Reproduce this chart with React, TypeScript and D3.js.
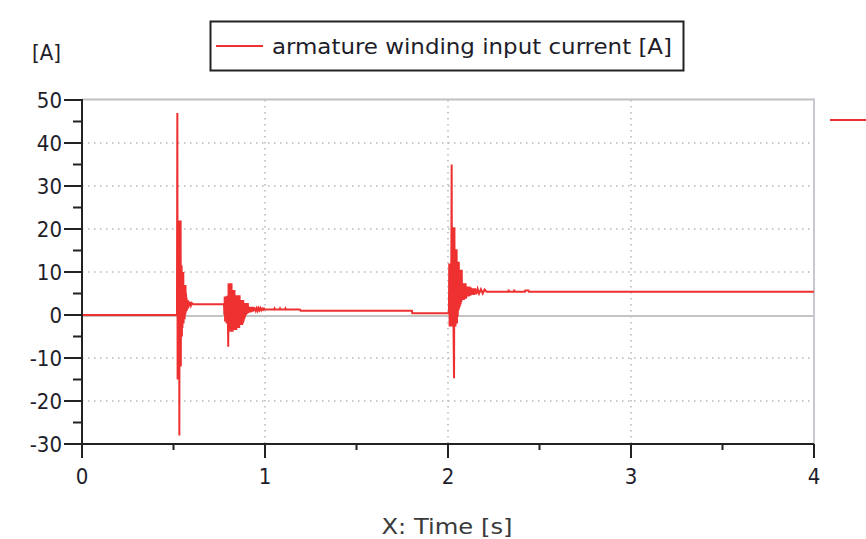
import React from "react";
import * as d3 from "d3";

// [time s, current A]
const seriesBase: [number, number][] = [
  [0, 0], [0.519, 0],
];
const burst1: [number, number][] = [
  [0.521, 47], [0.5225, -15], [0.524, 0], [0.525, -15], [0.526, 22], [0.5275, -15], [0.529, 22],
  [0.53, -15], [0.531, 22], [0.532, -28], [0.533, 22], [0.5345, -12], [0.536, 22], [0.5375, -12],
  [0.539, 22], [0.54, -12], [0.5415, 11.5], [0.543, -5], [0.5445, 11.5], [0.546, -5], [0.5475, 10],
  [0.549, -3], [0.5505, 10], [0.552, -2], [0.5535, 10], [0.555, -2], [0.5565, 7], [0.558, -1],
  [0.5595, 7], [0.561, -1], [0.5625, 7], [0.564, 0], [0.5655, 7], [0.567, 0.5], [0.5685, 5],
  [0.57, 1], [0.5715, 4], [0.573, 1], [0.5745, 3.5], [0.576, 1.5], [0.578, 3.5], [0.58, 1.5],
  [0.583, 3.2], [0.586, 2], [0.59, 3], [0.595, 2.2], [0.6, 2.8], [0.607, 2.5], [0.776, 2.5],
];
const burst2: [number, number][] = [
  [0.778, 0], [0.78, 4.3], [0.782, -1.5], [0.784, 4.3], [0.786, -1.5], [0.788, 4.3], [0.79, -2],
  [0.792, 4.5], [0.794, -2], [0.796, 4.5], [0.799, -7.4], [0.801, 7.4], [0.803, -3], [0.805, 7.4],
  [0.807, -3], [0.809, 7.4], [0.811, -3.9], [0.813, 7.4], [0.815, -3.9], [0.817, 7.4], [0.819, -3.9],
  [0.821, 5.8], [0.823, -3.9], [0.825, 5.8], [0.827, -3.5], [0.829, 5.8], [0.831, -3.5], [0.833, 5.8],
  [0.835, -3.5], [0.837, 4.6], [0.839, -3.5], [0.841, 4.6], [0.843, -3.5], [0.845, 4.6], [0.847, -3],
  [0.849, 4.6], [0.851, -3], [0.853, 4.6], [0.855, -3], [0.857, 4.6], [0.859, -3], [0.861, 4.6],
  [0.863, -2.3], [0.865, 3.5], [0.867, -2.3], [0.869, 3.5], [0.871, -2.3], [0.873, 3.5], [0.875, -2.3],
  [0.877, 3.5], [0.879, -2], [0.881, 3.5], [0.883, -1.5], [0.885, 2.8], [0.887, -1], [0.889, 2.8],
  [0.891, -0.5], [0.894, 2.8], [0.897, 0], [0.9, 2.8], [0.903, 0.3], [0.906, 2.8], [0.909, 0.5],
  [0.913, 1.9], [0.917, 0.6], [0.921, 1.9], [0.925, 0.7], [0.929, 1.9], [0.933, 0.8], [0.937, 1.9],
  [0.941, 0.9], [0.945, 1.7], [0.95, 1.0], [0.955, 1.6], [0.96, 1.0], [0.965, 1.6], [0.97, 1.1],
  [0.975, 1.6], [0.98, 1.1], [0.985, 1.5], [0.99, 1.2], [0.995, 1.5], [1.0, 1.3],
  [1.05, 1.3], [1.052, 1.5], [1.054, 1.3], [1.08, 1.3], [1.082, 1.5], [1.084, 1.3], [1.11, 1.3],
  [1.112, 1.5], [1.114, 1.3], [1.19, 1.3], [1.195, 1.0], [1.803, 1.0], [1.805, 0.4], [2.005, 0.4],
];
const burst3: [number, number][] = [
  [2.007, 12], [2.009, -2.7], [2.011, 12], [2.013, -2.7], [2.015, 12], [2.017, -2.7], [2.02, 35],
  [2.022, -2.7], [2.024, 20.4], [2.026, -2.7], [2.028, 20.4], [2.03, -2.7], [2.033, -14.7],
  [2.035, 20.4], [2.037, -2.7], [2.039, 15.3], [2.041, -2.7], [2.043, 15.3], [2.045, -2],
  [2.047, 15.3], [2.049, -2], [2.051, 12.4], [2.053, -0.4], [2.055, 12.4], [2.057, 1], [2.059, 12.4],
  [2.061, 1.5], [2.063, 10.5], [2.065, 2], [2.067, 10.5], [2.069, 2.5], [2.071, 10.5], [2.073, 3],
  [2.075, 10.5], [2.077, 3.5], [2.079, 7.4], [2.081, 3.5], [2.084, 7.4], [2.087, 3.5], [2.09, 7.4],
  [2.093, 3.8], [2.096, 7.4], [2.099, 3.8], [2.102, 6.6], [2.106, 4.3], [2.11, 6.6], [2.114, 4.3],
  [2.118, 6.6], [2.122, 4.5], [2.126, 6.4], [2.13, 4.7], [2.136, 6.2], [2.142, 4.7], [2.148, 6.2],
  [2.155, 4.8], [2.162, 6.1], [2.17, 5.0], [2.18, 6.0], [2.19, 5.0], [2.2, 5.9], [2.211, 5.4],
  [2.33, 5.4], [2.332, 5.9], [2.334, 5.4], [2.36, 5.4], [2.362, 5.9], [2.364, 5.4], [2.42, 5.4],
  [2.422, 5.7], [2.44, 5.7], [2.442, 5.4], [4.0, 5.4],
];

const yTicks = [50, 40, 30, 20, 10, 0, -10, -20, -30];
const yMinorTicks = [45, 35, 25, 15, 5, -5, -15, -25];
const xTicks = [0, 1, 2, 3, 4];
const xMinorTicks = [0.5, 1.5, 2.5, 3.5];
const legendLabel = "armature winding input current [A]";
const yUnit = "[A]";
const xTitle = "X: Time [s]";

const W = 866;
const H = 539;
const FONT = "'DejaVu Sans Condensed', 'DejaVu Sans', sans-serif";
const RED = "#ee3030";

export default function App() {
  const data = [...seriesBase, ...burst1, ...burst2, ...burst3];
  const x = d3.scaleLinear().domain([0, 4]).range([82, 814]);
  const y = d3.scaleLinear().domain([-30, 50]).range([444, 100]);
  const line = d3
    .line<[number, number]>()
    .x((d) => x(d[0]))
    .y((d) => y(d[1]));

  return (
    <svg
      width={W}
      height={H}
      style={{ position: "absolute", left: 0, top: 0, background: "#fff" }}
    >
      {/* grid */}
      {yTicks
        .filter((t) => t !== 0 && t !== -30 && t !== 50)
        .map((t) => (
          <line key={"gy" + t} x1={x(0)} x2={x(4)} y1={y(t)} y2={y(t)}
            stroke="#b8b8b8" strokeWidth={1.5} strokeDasharray="1.5,4.5" />
        ))}
      {xTicks
        .filter((t) => t !== 0 && t !== 4)
        .map((t) => (
          <line key={"gx" + t} x1={x(t)} x2={x(t)} y1={y(50)} y2={y(-30)}
            stroke="#b8b8b8" strokeWidth={1.5} strokeDasharray="1.5,4.5" />
        ))}
      {/* frame top / right */}
      <line x1={x(0)} x2={x(4)} y1={y(50) - 0.5} y2={y(50) - 0.5} stroke="#c0c0c0" strokeWidth={2} />
      <line x1={x(4)} x2={x(4)} y1={y(50) - 1.5} y2={y(-30)} stroke="#c8c8d0" strokeWidth={2} />
      {/* zero line */}
      <line x1={x(0)} x2={x(4)} y1={y(0) + 1} y2={y(0) + 1} stroke="#c4c4c4" strokeWidth={2} />

      {/* series */}
      <path d={line(data) || ""} fill="none" stroke={RED} strokeWidth={2} strokeLinejoin="miter" />

      {/* axes */}
      <line x1={x(0)} x2={x(0)} y1={y(50) - 1} y2={y(-30) + 14} stroke="#222" strokeWidth={2} />
      <line x1={x(0) - 18} x2={x(4)} y1={y(-30)} y2={y(-30)} stroke="#222" strokeWidth={2} />
      {yTicks.map((t) => (
        <g key={"yt" + t}>
          <line x1={x(0) - 18} x2={x(0)} y1={y(t)} y2={y(t)} stroke="#222" strokeWidth={2} />
          <text x={x(0) - 20} y={y(t)} dy="0.36em" textAnchor="end" fontFamily={FONT}
            fontSize={22} fill="#1e1e2a">{t}</text>
        </g>
      ))}
      {yMinorTicks.map((t) => (
        <line key={"ym" + t} x1={x(0) - 9} x2={x(0)} y1={y(t)} y2={y(t)} stroke="#222" strokeWidth={2} />
      ))}
      {xTicks.map((t) => (
        <g key={"xt" + t}>
          <line x1={x(t)} x2={x(t)} y1={y(-30)} y2={y(-30) + 14} stroke="#222" strokeWidth={2} />
          <text x={x(t)} y={y(-30) + 32} dy="0.36em" textAnchor="middle" fontFamily={FONT}
            fontSize={22} fill="#1e1e2a">{t}</text>
        </g>
      ))}
      {xMinorTicks.map((t) => (
        <line key={"xm" + t} x1={x(t)} x2={x(t)} y1={y(-30)} y2={y(-30) + 6} stroke="#222" strokeWidth={2} />
      ))}

      {/* unit label */}
      <text x={32} y={52} dy="0.36em" fontFamily={FONT} fontSize={22} fill="#1e1e2a">{yUnit}</text>
      {/* x title */}
      <text x={447} y={526} dy="0.36em" textAnchor="middle" fontFamily={FONT} fontSize={22}
        fill="#3a3a3a" textLength={131} lengthAdjust="spacingAndGlyphs">{xTitle}</text>

      {/* legend */}
      <rect x={210.5} y={21.5} width={473} height={49} fill="#fff" stroke="#222" strokeWidth={2} />
      <line x1={216} x2={263} y1={46} y2={46} stroke={RED} strokeWidth={2} />
      <text x={272} y={46} dy="0.36em" fontFamily={FONT} fontSize={22} fill="#1e1e2a"
        textLength={400} lengthAdjust="spacingAndGlyphs">{legendLabel}</text>

      {/* partially visible legend mark at right edge */}
      <line x1={830} x2={866} y1={120} y2={120} stroke={RED} strokeWidth={2} />
    </svg>
  );
}
